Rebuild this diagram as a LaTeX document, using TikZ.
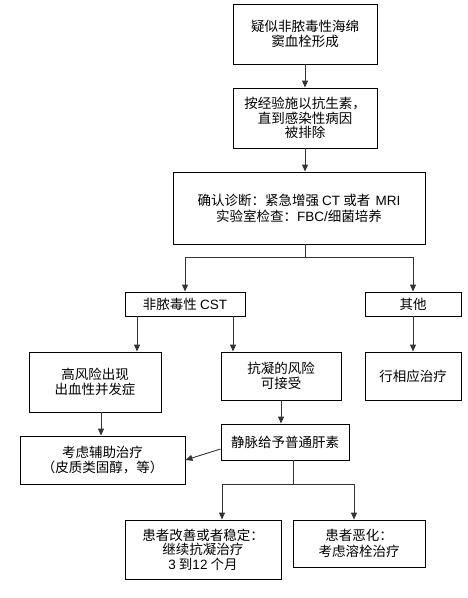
\documentclass[tikz,border=0pt]{standalone}
\usepackage{fontspec}
\setmainfont{Noto Sans CJK SC}
\newfontfamily\lat{Liberation Sans}
\usetikzlibrary{arrows.meta}
\begin{document}
\begin{tikzpicture}[x=1pt,y=-1pt,
  box/.style={draw=black, line width=0.9pt, align=center, inner sep=0pt,
    font=\fontsize{13.5}{15.5}\selectfont},
  conn/.style={draw=black!80, line width=0.9pt, -{Triangle[length=7pt,width=6pt]}},
  plain/.style={draw=black!80, line width=0.9pt}]
\useasboundingbox (0,0) rectangle (467,598);
\node[box, minimum width=144pt, minimum height=60pt] (b1) at (305,34) {疑似非脓毒性海绵\\窦血栓形成};
\node[box, minimum width=144pt, minimum height=60pt, font=\fontsize{13.5}{14.5}\selectfont] (b2) at (305,118) {按经验施以抗生素，\\直到感染性病因\\被排除};
\node[box, minimum width=252pt, minimum height=72pt, font=\fontsize{13.5}{16}\selectfont] (b3) at (299,208) {确认诊断：紧急增强 {\lat CT} 或者 \,{\lat MRI}\\实验室检查：{\lat FBC/}细菌培养};
\node[box, minimum width=120pt, minimum height=24pt] (cst) at (185,304) {非脓毒性 {\lat CST}};
\node[box, minimum width=96pt, minimum height=24pt] (oth) at (413,304) {其他};
\node[box, minimum width=132pt, minimum height=60pt] (hr) at (95,382) {高风险出现\\出血性并发症};
\node[box, minimum width=120pt, minimum height=48pt] (ac) at (281,376) {抗凝的风险\\可接受};
\node[box, minimum width=96pt, minimum height=48pt] (tr) at (413,376) {行相应治疗};
\node[box, minimum width=165pt, minimum height=48pt] (kl) at (102.5,460) {考虑辅助治疗\\（皮质类固醇，等）};
\node[box, minimum width=128pt, minimum height=36pt] (hep) at (285,442) {静脉给予普通肝素};
\node[box, minimum width=156pt, minimum height=59pt, font=\fontsize{13.5}{14.5}\selectfont] (imp) at (203,549.5) {患者改善或者稳定：\\继续抗凝治疗\\{\lat 3} 到{\lat 12} 个月};
\node[box, minimum width=132pt, minimum height=47pt] (wor) at (359,543.5) {患者恶化：\\考虑溶栓治疗};
\coordinate (j1) at (305,257);
\coordinate (j2) at (293,484);
\coordinate (c1) at (137,0);
\coordinate (c2) at (233,0);
\coordinate (c3) at (101,0);
\draw[conn] (b1) -- (b2);
\draw[conn] (b2.south) -- (b2.south |- b3.north);
\draw[plain] (j1 |- b3.south) -- (j1);
\draw[conn] (j1) -| (cst);
\draw[conn] (j1) -| (oth);
\draw[conn] (c1 |- cst.south) -- (c1 |- hr.north);
\draw[conn] (c2 |- cst.south) -- (c2 |- ac.north);
\draw[conn] (oth) -- (tr);
\draw[conn] (c3 |- hr.south) -- (c3 |- kl.north);
\draw[conn] (ac) -- (ac.south |- hep.north);
\draw[conn] ([yshift=-7pt]hep.west) -- (kl.east);
\draw[plain] (j2 |- hep.south) -- (j2);
\draw[conn] (j2) -| ([xshift=19pt]imp.north);
\draw[conn] (j2) -| ([xshift=-5pt]wor.north);
\end{tikzpicture}
\end{document}
